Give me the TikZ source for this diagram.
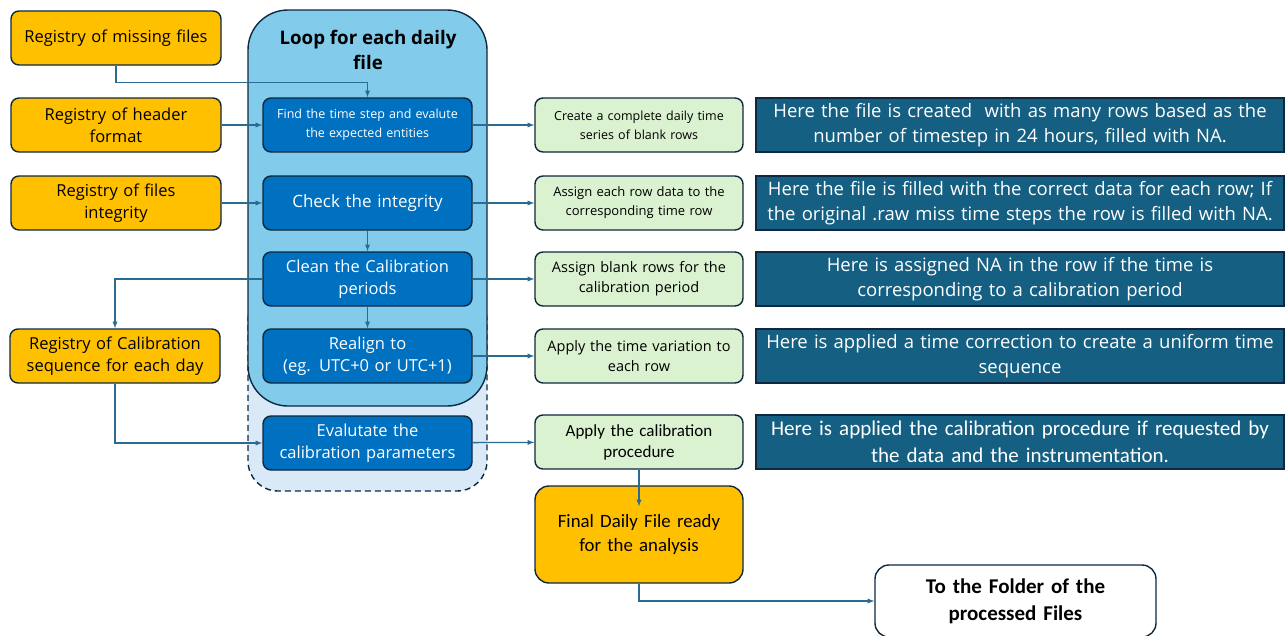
\documentclass[tikz,border=0pt]{standalone}
\usepackage{fontspec}
\setmainfont{Open Sans}
\newfontfamily\narrowfont{Carlito}
\usepackage{xcolor}
\definecolor{edge}{HTML}{0E2841}
\definecolor{regyellow}{HTML}{FFC000}
\definecolor{loopblue}{HTML}{83CBEB}
\definecolor{dashblue}{HTML}{DAE9F8}
\definecolor{procblue}{HTML}{0070C0}
\definecolor{stepgreen}{HTML}{DAF2D0}
\definecolor{noteteal}{HTML}{156082}
\definecolor{linecol}{HTML}{2B6A92}

\begin{document}
\begin{tikzpicture}[x=1pt,y=-1pt,
  box/.style={draw=edge,line width=1.4pt,rounded corners=8pt,align=center,inner sep=0pt},
  reg/.style={box,fill=regyellow,text=black,minimum width=210pt,minimum height=54pt,text width=200pt,font=\fontsize{16.5}{22}\selectfont},
  proc/.style={box,fill=procblue,text=white,minimum width=209pt,minimum height=54pt,text width=200pt,font=\fontsize{16.5}{22}\selectfont},
  res/.style={box,fill=stepgreen,text=black,minimum width=208pt,minimum height=54pt,text width=200pt,font=\fontsize{14.5}{20}\selectfont},
  note/.style={draw=edge,line width=1.2pt,fill=noteteal,text=white,minimum width=528pt,minimum height=54pt,text width=524pt,align=center,inner sep=0pt,font=\fontsize{18.5}{25}\selectfont},
  arr/.style={draw=linecol,line width=1.3pt,->,>=latex}]
\useasboundingbox (0,0) rectangle (1288,635);

\node[box,fill=dashblue,dash pattern=on 6pt off 4pt,rounded corners=30pt,minimum width=239pt,minimum height=200pt](5) at (367.5,391){};
\node[box,fill=loopblue,rounded corners=40pt,minimum width=239pt,minimum height=396pt](6) at (367.5,208){};
\node[align=center,font=\fontsize{18.7}{25}\selectfont\bfseries](7) at (368,50){Loop for each daily\\file};

\node[reg](1) at (116,38){Registry of missing files};
\node[reg](2) at (116,125){Registry of header\\format};
\node[reg](3) at (116,203){Registry of files\\integrity};
\node[reg](4) at (115,356){Registry of Calibration\\sequence for each day};

\node[proc,font=\fontsize{12.5}{19}\selectfont](8) at (367.5,125){Find the time step and evalute\\the expected entities};
\node[proc,font=\fontsize{17}{22}\selectfont](9) at (367.5,203){Check the integrity};
\node[proc](10) at (367.5,279){Clean the Calibration\\periods};
\node[proc](11) at (367.5,356){Realign to\\(eg. UTC+0 or UTC+1)};
\node[proc](12) at (367.5,443){Evalutate the\\calibration parameters};

\node[res,font=\fontsize{12.5}{19}\selectfont](13) at (639,125){Create a complete daily time\\series of blank rows};
\node[res,font=\fontsize{13}{19}\selectfont](14) at (639,203){Assign each row data to the\\corresponding time row};
\node[res](15) at (639,279){Assign blank rows for the\\calibration period};
\node[res](16) at (639,356){Apply the time variation to\\each row};
\node[res,font=\fontsize{17}{21}\narrowfont](17) at (639,442){Apply the calibration\\procedure};

\node[note](18) at (1020,125){Here the file is created\ \ with as many rows based as the\\number of timestep in 24 hours, filled with NA.};
\node[note](19) at (1020,203){Here the file is filled with the correct data for each row; If\\the original .raw miss time steps the row is filled with NA.};
\node[note](20) at (1020,279){Here is assigned NA in the row if the time is\\corresponding to a calibration period};
\node[note](21) at (1020,356){Here is applied a time correction to create a uniform time\\sequence};
\node[note,font=\fontsize{21}{27}\narrowfont](22) at (1020,442){Here is applied the calibration procedure if requested by\\the data and the instrumentation.};

\node[reg,rounded corners=14pt,minimum width=208pt,minimum height=97pt,font=\fontsize{18.8}{24}\narrowfont](23) at (639,534.5){Final Daily File ready\\for the analysis};
\node[box,fill=white,rounded corners=14pt,minimum width=281pt,minimum height=72pt,text width=270pt,font=\fontsize{21}{27}\narrowfont\bfseries](24) at (1015.5,601){To the Folder of the\\processed Files};

\draw[arr](1.south) -- ++(0,17) -| (8.north);
\draw[arr](2)--(8);
\draw[arr](3)--(9);
\draw[arr](9)--(10);
\draw[arr](10)--(11);
\draw[arr](10.west) -| (4.north);
\draw[arr](4.south) |- (12.west);
\draw[arr](8)--(13);
\draw[arr](9)--(14);
\draw[arr](10)--(15);
\draw[arr](11)--(16);
\draw[arr](12)--(17);
\draw[arr,shorten >=-21pt](17)--(23);
\draw[arr](23.south) |- (24.west);
\end{tikzpicture}
\end{document}
